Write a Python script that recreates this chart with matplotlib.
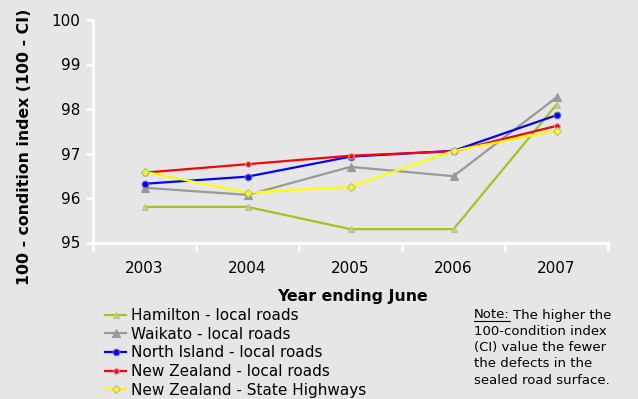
import matplotlib
matplotlib.use("Agg")
import matplotlib.pyplot as plt
from matplotlib.lines import Line2D

years = ["2003", "2004", "2005", "2006", "2007"]

hamilton = [95.80, 95.80, 95.30, 95.30, 98.10]
waikato = [96.23, 96.07, 96.70, 96.49, 98.26]
north_island = [96.32, 96.48, 96.93, 97.06, 97.86]
nz_local = [96.57, 96.76, 96.95, 97.05, 97.62]
nz_highways = [96.59, 96.12, 96.25, 97.06, 97.51]

labels = [
    "Hamilton - local roads",
    "Waikato - local roads",
    "North Island - local roads",
    "New Zealand - local roads",
    "New Zealand - State Highways",
]

note_lines = [
    "The higher the",
    "100-condition index",
    "(CI) value the fewer",
    "the defects in the",
    "sealed road surface.",
]

BG = "#e6e6e6"
W, H = 638, 399

fig = plt.figure(figsize=(W / 100, H / 100), dpi=100, facecolor=BG)
ax = fig.add_axes([93 / W, 1 - 242.5 / H, (608 - 93) / W, (242.5 - 20) / H])
ax.set_facecolor(BG)

x = list(range(len(years)))
styles = [
    (hamilton, "#a6c21c", "^", "#c4d47a", "#b8c48a", 5),
    (waikato, "#999999", "^", "#9a9a9a", "#9a9a9a", 5.5),
    (north_island, "#0000ff", "o", "#0000ff", "#7070c0", 4.8),
    (nz_local, "#ff0000", "o", "#ff0000", "#d0a0a0", 4),
    (nz_highways, "#ffff00", "D", "#ffff00", "#b8b8a0", 4.3),
]
handles = []
for (vals, col, mk, mfc, mec, ms), lab in zip(styles, labels):
    h, = ax.plot(x, vals, color=col, lw=1.6, marker=mk, ms=ms,
                 mfc=mfc, mec=mec, mew=0.8, label=lab)
    handles.append(h)

ax.set_xlim(-0.5, 4.5)
ax.set_ylim(95, 100)
ax.set_yticks([95, 96, 97, 98, 99, 100])
ax.set_xticks(x)
ax.set_xticklabels(years)
ax.set_xticks([i - 0.5 for i in range(6)], minor=True)
ax.tick_params(axis="x", which="major", length=0, pad=13, labelsize=11)
ax.tick_params(axis="x", which="minor", length=6, width=2, color="white", direction="out")
ax.tick_params(axis="y", length=5, width=2, color="white", labelsize=11, pad=4)

for side in ["top", "right"]:
    ax.spines[side].set_visible(False)
for side in ["left", "bottom"]:
    ax.spines[side].set_color("white")
    ax.spines[side].set_linewidth(2)

fig.text(25 / W, 1 - 147 / H, "100 - condition index (100 - CI)", rotation=90,
         ha="center", va="center", fontsize=11.3, fontweight="bold")
fig.text(352 / W, 1 - 296 / H, "Year ending June", ha="center", va="center",
         fontsize=11.3, fontweight="bold")

leg = fig.legend(handles=handles, loc="upper left",
                 bbox_to_anchor=(102 / W, 1 - 305 / H), fontsize=11,
                 frameon=True, facecolor=BG, edgecolor="none", framealpha=1,
                 handlelength=1.4, handletextpad=0.3, labelspacing=0.24,
                 borderpad=0.2, borderaxespad=0, fancybox=False)

# note box, "Note:" underlined by hand
note_x = 474 / W
nt = fig.text(note_x, 1 - 315 / H, "Note:", fontsize=9.5, va="center", ha="left")
fig.canvas.draw()
bb = nt.get_window_extent().transformed(fig.transFigure.inverted())
fig.add_artist(Line2D([bb.x0, bb.x1], [bb.y0 + 0.002, bb.y0 + 0.002],
                      transform=fig.transFigure, color="black", lw=0.8))
fig.text(bb.x1 + 3 / W, 1 - 315 / H, note_lines[0], fontsize=9.5, va="center", ha="left")
for i, line in enumerate(note_lines[1:], start=1):
    fig.text(note_x, 1 - (315 + 16.3 * i) / H, line, fontsize=9.5, va="center", ha="left")

fig.savefig("out.png", dpi=100, facecolor=BG)
